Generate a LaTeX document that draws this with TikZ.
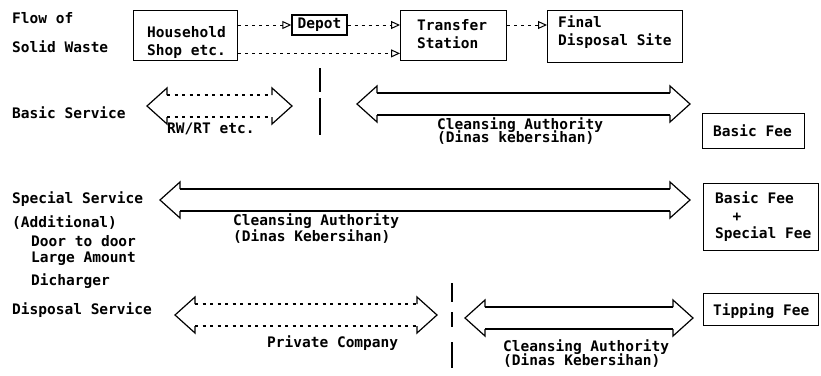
\documentclass[tikz,border=0pt]{standalone}
\usepackage{fontspec}
\setmonofont{DejaVu Sans Mono}
\usetikzlibrary{arrows.meta,calc}

% double-headed span arrow: #1 shaft style, #2 left tip x, #3 right tip x, #4 centre y
\newcommand\spanarrow[4]{%
  \draw[spanhead] (#2+20,#4-11) -- (#2+20,#4-18) -- (#2,#4) -- (#2+20,#4+18) -- (#2+20,#4+11);
  \draw[spanhead] (#3-20,#4-11) -- (#3-20,#4-18) -- (#3,#4) -- (#3-20,#4+18) -- (#3-20,#4+11);
  \draw[#1] (#2+20,#4-11) -- (#3-20,#4-11);
  \draw[#1] (#2+20,#4+11) -- (#3-20,#4+11);
}

\begin{document}
\begin{tikzpicture}[x=1pt,y=-1pt,
  txt/.style={font=\ttfamily\bfseries\fontsize{14.5}{16}\selectfont, inner sep=0pt},
  lbl/.style={txt, anchor=base west},
  box/.style={draw, line width=1.4pt, inner sep=0pt, anchor=north west},
  flow/.style={line width=1pt, dash pattern=on 3pt off 4pt,
    -{Triangle[open,length=9pt,width=8pt,line width=1pt]}},
  spanhead/.style={line width=1.2pt, line join=miter},
  solidshaft/.style={line width=1.2pt},
  dashshaft/.style={line width=1.2pt, dash pattern=on 3pt off 4.5pt},
  divider/.style={line width=1.6pt}]
\useasboundingbox[fill=white] (0,0) rectangle (821,375);

% ---- flow of solid waste ----
\node[lbl] (flowA) at (12,23) {Flow of};
\node[lbl] (flowB) at (12,52) {Solid Waste};

\node[box, minimum width=104pt, minimum height=50pt] (house) at (133,10) {};
\node[lbl] (houseA) at (147,37) {Household};
\node[lbl] (houseB) at (147,55) {Shop etc.};

\node[box, txt, anchor=center, minimum width=55pt, minimum height=20pt] (depot) at (319.5,25) {Depot};

\node[box, minimum width=106pt, minimum height=50pt] (transfer) at (400,10) {};
\node[lbl] (transA) at (417,30) {Transfer};
\node[lbl] (transB) at (417,48) {Station};

\node[box, minimum width=135pt, minimum height=52pt] (final) at (547,10) {};
\node[lbl] (finalA) at (558,27) {Final};
\node[lbl] (finalB) at (558,45) {Disposal Site};

\draw[flow] (house.east |- depot.west) -- (depot.west);
\draw[flow] (depot.east) -- (depot.east -| transfer.west);
\coordinate (lowflow) at ($(house.south east)+(0,-8)$);
\draw[flow] (lowflow) -- (lowflow -| transfer.west);
\draw[flow] (transfer.east |- depot.east) -- (final.west |- depot.east);

% ---- basic service ----
\node[lbl] (basic) at (12,118) {Basic Service};
\spanarrow{dashshaft}{147}{292}{106}
\node[lbl] (rwrt) at (167,133) {RW/RT etc.};
\coordinate (divA1) at (320,68);
\coordinate (divA2) at (320,135);
\draw[divider, dash pattern=on 24pt off 6pt on 40pt] (divA1) -- (divA2);
\spanarrow{solidshaft}{357}{690}{104}
\node[lbl] (caA) at (437,129) {Cleansing Authority};
\node[lbl] (caB) at (437,142) {(Dinas kebersihan)};
\node[box, minimum width=102pt, minimum height=35pt] (feeA) at (702,113) {};
\node[lbl] (feeAt) at (713,136) {Basic Fee};

% ---- special service ----
\node[lbl] (special) at (12,203) {Special Service};
\node[lbl] (addl) at (12,227) {(Additional)};
\node[lbl] (door) at (31,246) {Door to door};
\node[lbl] (large) at (31,262) {Large Amount};
\node[lbl] (disch) at (31,285) {Dicharger};
\spanarrow{solidshaft}{160}{690}{200}
\node[lbl] (cbA) at (233,225) {Cleansing Authority};
\node[lbl] (cbB) at (233,241) {(Dinas Kebersihan)};
\node[box, minimum width=115pt, minimum height=67pt] (feeB) at (703,183) {};
\node[lbl] (feeB1) at (715,203) {Basic Fee};
\node[lbl] (feeB2) at (715,221) {\ \ +};
\node[lbl] (feeB3) at (715,238) {Special Fee};

% ---- disposal service ----
\node[lbl] (disp) at (12,314) {Disposal Service};
\spanarrow{dashshaft}{175}{437}{315}
\node[lbl] (priv) at (267,347) {Private Company};
\coordinate (divB1) at (452,283);
\coordinate (divB2) at (452,368);
\draw[divider, dash pattern=on 19pt off 10pt on 15pt off 15pt on 30pt] (divB1) -- (divB2);
\spanarrow{solidshaft}{465}{693}{318}
\node[lbl] (ccA) at (503,351) {Cleansing Authority};
\node[lbl] (ccB) at (503,365) {(Dinas Kebersihan)};
\node[box, minimum width=115pt, minimum height=32pt] (feeC) at (703,293) {};
\node[lbl] (feeCt) at (713,315) {Tipping Fee};
\end{tikzpicture}
\end{document}
